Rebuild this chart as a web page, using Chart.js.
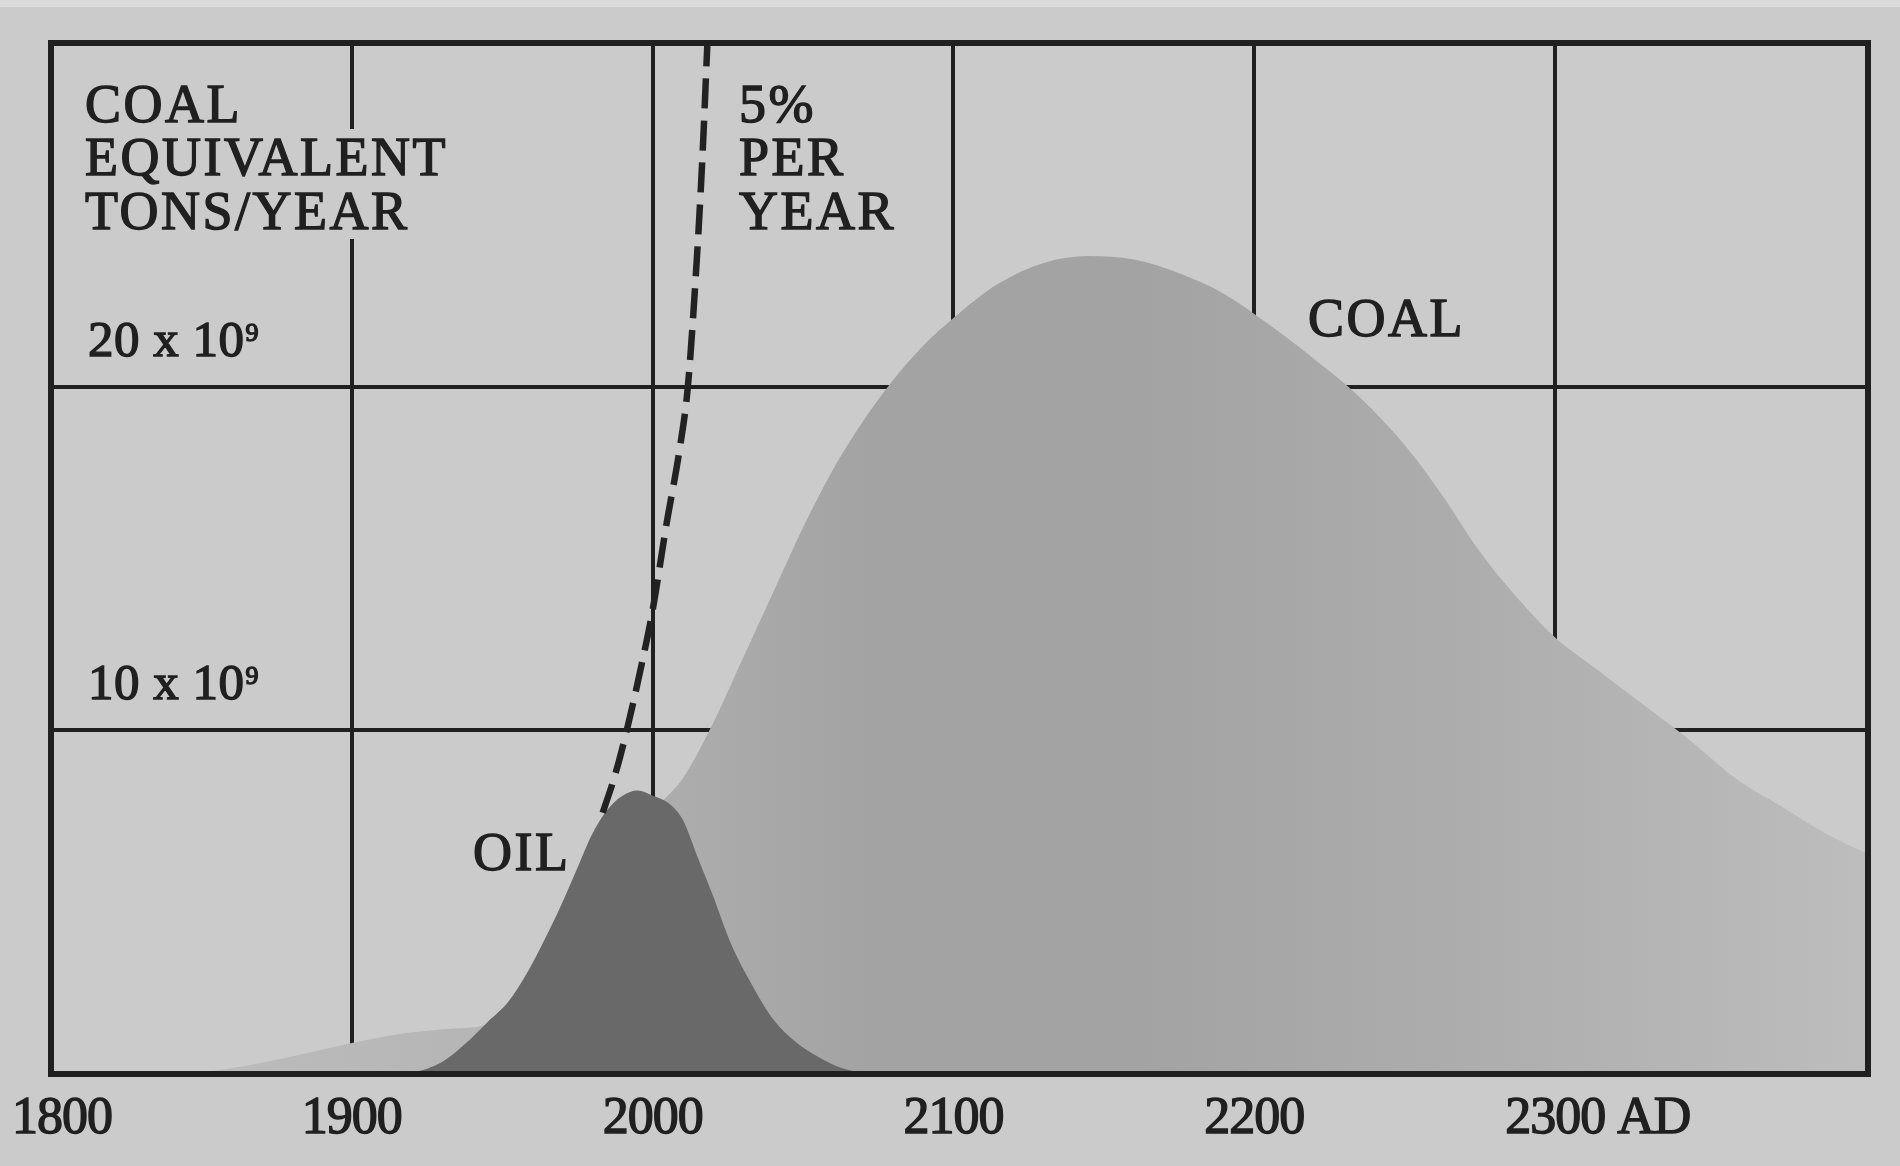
<!DOCTYPE html>
<html>
<head>
<meta charset="utf-8">
<script src="https://cdn.jsdelivr.net/npm/chart.js@4.4.1/dist/chart.umd.min.js"></script>
<style>
html,body{margin:0;padding:0;background:#cbcbcb;overflow:hidden}
#wrap{width:1900px;height:1166px;position:relative}
</style>
</head>
<body>
<div id="wrap"><canvas id="c"></canvas></div>
<script>
// ---------- data ----------
const xTickValues = [1800, 1900, 2000, 2100, 2200, 2300];
const xTickLabels = ["1800", "1900", "2000", "2100", "2200", "2300 AD"];
const yTickValues = [10, 20];
const yTickLabels = ["10 x 10⁹", "20 x 10⁹"];

const coalYears  = [1840, 1855, 1877, 1900, 1915, 1930, 1945, 1960, 1975, 1990, 2000, 2010, 2020, 2030, 2040, 2050, 2060, 2070, 2080, 2090, 2100, 2115, 2130, 2145, 2160, 2175, 2190, 2205, 2220, 2235, 2250, 2262, 2275, 2288, 2300, 2315, 2330, 2345, 2360, 2375, 2390, 2404];
const coalValues = [0, 0.1, 0.45, 0.9, 1.15, 1.3, 1.45, 2.2, 3.6, 6.0, 7.6, 8.6, 10.2, 12.1, 14.0, 15.9, 17.6, 19.0, 20.2, 21.2, 22.0, 23.0, 23.6, 23.8, 23.7, 23.3, 22.7, 21.8, 20.8, 19.7, 18.3, 16.9, 15.2, 13.8, 12.7, 11.7, 10.7, 9.7, 8.6, 7.8, 7.0, 6.4];

const oilYears  = [1905, 1920, 1930, 1938, 1945, 1952, 1958, 1964, 1969, 1975, 1980, 1985, 1990, 1995, 2000, 2005, 2010, 2015, 2020, 2026, 2033, 2040, 2048, 2055, 2062, 2072];
const oilValues = [0, 0.05, 0.35, 0.9, 1.5, 2.1, 2.9, 3.9, 4.8, 6.0, 7.0, 7.7, 8.1, 8.25, 8.1, 7.9, 7.4, 6.3, 5.2, 3.8, 2.6, 1.6, 0.9, 0.5, 0.2, 0];

const growthYears  = [1983.4, 1987.5, 1991.4, 1995.8, 2000, 2004.6, 2009, 2011.7, 2014.6, 2016.5, 2018.2];
const growthValues = [7.6, 8.7, 10.0, 11.7, 13.5, 16.0, 18.2, 20.0, 23.6, 26.6, 30];

const unitLines   = ["COAL", "EQUIVALENT", "TONS/YEAR"];
const growthLines = ["5%", "PER", "YEAR"];
const coalLabel = "COAL";
const oilLabel  = "OIL";

// ---------- styles ----------
const PAPER = '#cbcbcb';
const INK = '#202020';
const SERIF = '"Liberation Serif", "Times New Roman", serif';

function pts(xs, ys) { return xs.map((x, i) => ({ x: x, y: ys[i] })); }

function coalFill(ctx) {
  const chart = ctx.chart;
  const a = chart.chartArea;
  if (!a) return '#a8a8a8';
  const g = chart.ctx.createLinearGradient(a.left, 0, a.right, 0);
  g.addColorStop(0.0, '#bfbfbf');
  g.addColorStop(0.25, '#b5b5b5');
  g.addColorStop(0.45, '#a3a3a3');
  g.addColorStop(0.6, '#a3a3a3');
  g.addColorStop(0.78, '#adadad');
  g.addColorStop(1.0, '#bdbdbd');
  return g;
}

function drawText(c, txt, x, y, size, spacing) {
  c.font = size + 'px ' + SERIF;
  c.letterSpacing = (spacing || 0) + 'px';
  c.fillText(txt, x, y);
  c.strokeText(txt, x, y);
}

const decor = {
  id: 'decor',
  beforeDraw(chart) {
    const c = chart.ctx;
    c.save();
    c.fillStyle = PAPER;
    c.fillRect(0, 0, chart.width, chart.height);
    c.fillStyle = '#dadada';
    c.fillRect(0, 0, chart.width, 7);
    c.restore();
  },
  afterDraw(chart) {
    const c = chart.ctx, a = chart.chartArea;
    const xs = chart.scales.x, ys = chart.scales.y;
    c.save();
    // frame (top / right edges)
    c.strokeStyle = INK;
    c.lineWidth = 6;
    c.strokeRect(a.left, a.top, a.right - a.left, a.bottom - a.top);

    c.fillStyle = INK;
    c.strokeStyle = INK;
    c.lineWidth = 1.4;
    c.textAlign = 'left';
    c.textBaseline = 'alphabetic';

    // unit block (knock out grid line behind)
    c.fillStyle = PAPER;
    c.fillRect(a.left + 30, a.top + 86, 385, 110);
    c.fillStyle = INK;
    const ux = a.left + 34;
    const ub = [a.top + 79, a.top + 132, a.top + 186];
    unitLines.forEach((t, i) => drawText(c, t, ux, ub[i], 54, 2.5));

    // growth label
    const gx = 739;
    growthLines.forEach((t, i) => drawText(c, t, gx, ub[i], 54, 2.5));

    // curve labels
    drawText(c, coalLabel, 1308, 336, 54, 2.5);
    drawText(c, oilLabel, 473, 870, 54, 2.5);

    // y labels inside plot
    yTickValues.forEach((v, i) => {
      const lab = yTickLabels[i];
      const base = lab.replace('⁹', '');
      const yb = ys.getPixelForValue(v) - 31;
      const x0 = a.left + 37;
      drawText(c, base, x0, yb, 51, 0.5);
      c.font = '51px ' + SERIF;
      c.letterSpacing = '0.5px';
      const w = c.measureText(base).width;
      if (lab.indexOf('⁹') >= 0) drawText(c, '9', x0 + w + 1, yb - 15, 26, 0);
    });

    // x labels
    xTickValues.forEach((v, i) => {
      const lab = xTickLabels[i];
      c.font = '52px ' + SERIF;
      c.letterSpacing = '-1px';
      const wNum = c.measureText(String(v)).width;
      let left = xs.getPixelForValue(v) - wNum / 2;
      if (left < 12) left = 12;
      drawText(c, lab, left, a.bottom + 59, 52, -1);
    });
    c.restore();
  }
};

new Chart(document.getElementById('c'), {
  type: 'line',
  data: {
    datasets: [
      {
        label: '5% per year',
        data: pts(growthYears, growthValues),
        borderColor: '#222222',
        borderWidth: 6.5,
        borderDash: [30, 12],
        borderCapStyle: 'butt',
        fill: false,
        pointRadius: 0,
        cubicInterpolationMode: 'monotone'
      },
      {
        label: 'Oil',
        data: pts(oilYears, oilValues),
        borderWidth: 0,
        borderColor: 'rgba(0,0,0,0)',
        backgroundColor: '#696969',
        fill: 'origin',
        pointRadius: 0,
        cubicInterpolationMode: 'monotone'
      },
      {
        label: 'Coal',
        data: pts(coalYears, coalValues),
        borderWidth: 0,
        borderColor: 'rgba(0,0,0,0)',
        backgroundColor: coalFill,
        fill: 'origin',
        pointRadius: 0,
        cubicInterpolationMode: 'monotone'
      }
    ]
  },
  options: {
    responsive: true,
    maintainAspectRatio: false,
    animation: false,
    events: [],
    layout: { padding: { left: 51, right: 32, top: 43, bottom: 92 } },
    plugins: { legend: { display: false }, tooltip: { enabled: false } },
    scales: {
      x: {
        type: 'linear',
        min: 1800,
        max: 2404,
        z: 1,
        afterBuildTicks: (axis) => { axis.ticks = xTickValues.map(v => ({ value: v })); },
        ticks: { display: false },
        grid: { color: INK, lineWidth: 4, drawTicks: false },
        border: { display: true, color: INK, width: 6 }
      },
      y: {
        type: 'linear',
        min: 0,
        max: 30,
        z: 1,
        ticks: { display: false, stepSize: 10 },
        grid: { color: INK, lineWidth: 4, drawTicks: false },
        border: { display: true, color: INK, width: 6 }
      }
    }
  },
  plugins: [decor]
});
</script>
</body>
</html>
